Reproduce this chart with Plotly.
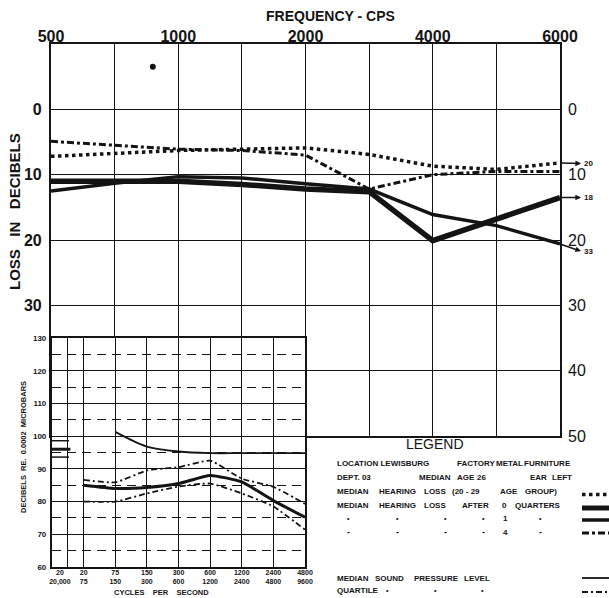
import plotly.graph_objects as go

W, H = 609, 598
INK = '#141414'


def px(x):
    return x / W


def py(y):
    return 1 - y / H


# main audiogram (loss in dB, larger = lower on chart)
freq_pos = [0, 1, 2, 3, 4, 5, 6, 7, 8]
freq_text = ['500', '', '1000', '', '2000', '', '4000', '', '6000']
loss_young = [7.2, 6.8, 6.3, 6.1, 5.9, 6.9, 8.7, 9.2, 8.2]      # 20-29 age group
loss_q0 = [11.0, 11.1, 11.0, 11.5, 12.2, 12.6, 20.1, 16.8, 13.5]  # after 0 quarters
loss_q1 = [12.5, 11.3, 10.3, 10.5, 11.4, 12.2, 16.1, 17.8, 20.6]  # after 1 quarter
loss_q4 = [4.9, 5.5, 6.1, 6.3, 7.0, 12.2, 10.0, 9.5, 9.5]         # after 4 quarters
end_labels = ['20', '18', '33']
stray_x = [1.6]
stray_y = [-6.5]
loss_ticks = [0, 10, 20, 30, 40, 50]

# inset: sound pressure level by octave band
band_pos = [0, 1, 2, 3, 4, 5, 6, 7]
band_text = ['20<br>75', '75<br>150', '150<br>300', '300<br>600', '600<br>1200',
             '1200<br>2400', '2400<br>4800', '4800<br>9600']
overall_pos = -0.75
overall_text = '20<br>20,000'
spl_median = [85.0, 84.0, 84.3, 85.5, 88.0, 86.0, 80.3, 75.2]
spl_upper = [86.6, 85.9, 89.5, 90.5, 92.5, 87.0, 84.5, 79.3]
spl_lower = [80.0, 80.0, 82.5, 84.6, 85.5, 82.5, 78.5, 71.4]
crit_pos = [1, 2, 3, 4, 5, 6, 7]
crit_level = [101.3, 96.8, 95.3, 94.8, 94.8, 94.8, 94.8]
overall_median = 96.0
overall_quart = [98.6, 93.6]
spl_ticks = [60, 70, 80, 90, 100, 110, 120, 130]

dash_dot = '7px,3px,3px,3px'
quart_dash = '6px,3px,2px,3px'
fig = go.Figure()

# main lines
fig.add_trace(go.Scatter(x=freq_pos, y=loss_young, mode='lines',
                         line=dict(color=INK, width=3.5, dash='dot')))
fig.add_trace(go.Scatter(x=freq_pos, y=loss_q4, mode='lines',
                         line=dict(color=INK, width=3, dash=dash_dot)))
fig.add_trace(go.Scatter(x=freq_pos, y=loss_q1, mode='lines',
                         line=dict(color=INK, width=3.5)))
fig.add_trace(go.Scatter(x=freq_pos, y=loss_q0, mode='lines',
                         line=dict(color=INK, width=5.5)))
fig.add_trace(go.Scatter(x=stray_x, y=stray_y, mode='markers', yaxis='y3',
                         marker=dict(color=INK, size=6)))

# inset lines
fig.add_trace(go.Scatter(x=crit_pos, y=crit_level, mode='lines', xaxis='x2', yaxis='y2',
                         line=dict(color=INK, width=1.8, shape='spline', smoothing=0.8)))
fig.add_trace(go.Scatter(x=band_pos, y=spl_upper, mode='lines', xaxis='x2', yaxis='y2',
                         line=dict(color=INK, width=1.8, dash=quart_dash,
                                   shape='spline', smoothing=0.5)))
fig.add_trace(go.Scatter(x=band_pos, y=spl_lower, mode='lines', xaxis='x2', yaxis='y2',
                         line=dict(color=INK, width=1.8, dash=quart_dash,
                                   shape='spline', smoothing=0.5)))
fig.add_trace(go.Scatter(x=band_pos, y=spl_median, mode='lines', xaxis='x2', yaxis='y2',
                         line=dict(color=INK, width=3, shape='spline', smoothing=0.5)))
fig.add_trace(go.Scatter(x=[overall_pos], y=[overall_median], mode='markers',
                         xaxis='x2', yaxis='y2',
                         marker=dict(symbol='line-ew', size=15, line=dict(color=INK, width=3))))
fig.add_trace(go.Scatter(x=[overall_pos] * 2, y=overall_quart, mode='markers',
                         xaxis='x2', yaxis='y2',
                         marker=dict(symbol='line-ew', size=13, line=dict(color=INK, width=1.5))))

bold = dict(family='Liberation Sans', color=INK, weight='bold')

fig.update_layout(
    width=W, height=H, autosize=False, showlegend=False,
    margin=dict(l=0, r=0, t=0, b=0, autoexpand=False),
    paper_bgcolor='white', plot_bgcolor='white',
    font=dict(family='Liberation Sans', color=INK),
    xaxis=dict(domain=[px(51), px(560)], range=[0, 8], side='top', anchor='y',
               automargin=False,
               tickvals=freq_pos, ticktext=freq_text, ticks='',
               tickfont=dict(bold, size=16), ticklabelstandoff=-6,
               showgrid=True, gridcolor=INK, gridwidth=1.2, zeroline=False,
               showline=True, mirror=True, linecolor=INK, linewidth=2.2),
    yaxis=dict(domain=[py(436), py(44)], range=[50, -10], anchor='x', automargin=False,
               tickvals=loss_ticks[:4], ticks='', tickfont=dict(bold, size=16),
               ticklabelstandoff=4,
               showgrid=True, gridcolor=INK, gridwidth=1.2, zeroline=False,
               minor=dict(tickvals=[40], showgrid=True, gridcolor=INK, gridwidth=1.2),
               showline=True, mirror=True, linecolor=INK, linewidth=2.2),
    yaxis3=dict(overlaying='y', side='right', anchor='x', range=[50, -10], automargin=False,
                tickvals=loss_ticks, ticks='', showgrid=False, zeroline=False,
                ticklabelstandoff=7,
                tickfont=dict(family='Liberation Sans', color=INK, size=16)),
    xaxis2=dict(domain=[px(52), px(305)], range=[-1, 7], anchor='y2', automargin=False,
                tickvals=[overall_pos] + band_pos, ticktext=[overall_text] + band_text,
                ticks='', tickfont=dict(bold, size=7), showgrid=False, zeroline=False,
                ticklabelstandoff=-3,
                minor=dict(tickvals=[-0.5] + band_pos, showgrid=True,
                           gridcolor=INK, gridwidth=1.3),
                showline=True, mirror=True, linecolor=INK, linewidth=2.2),
    yaxis2=dict(domain=[py(567), py(338)], range=[60, 130], anchor='x2', automargin=False,
                tickvals=spl_ticks, ticks='', tickfont=dict(bold, size=8),
                ticklabelstandoff=2,
                showgrid=True, gridcolor=INK, gridwidth=1.4, zeroline=False,
                minor=dict(tickvals=[65, 75, 85, 95, 105, 115, 125], showgrid=True,
                           gridcolor=INK, gridwidth=0.8, griddash='9px,6px'),
                showline=True, mirror=True, linecolor=INK, linewidth=2.2),
)

ann = []


def text(x, y, s, size=8, anchor='left', weight='bold', angle=0):
    ann.append(dict(x=px(x), y=py(y), xref='paper', yref='paper', text=s, showarrow=False,
                    xanchor=anchor, yanchor='middle', textangle=angle,
                    font=dict(family='Liberation Sans', size=size, color=INK, weight=weight)))


def words(y, items):
    for xx, s in items:
        text(xx, y, s)


text(330, 16, 'FREQUENCY - CPS', size=14, anchor='center')
text(14, 212, 'LOSS&nbsp;&nbsp; IN&nbsp;&nbsp; DECIBELS', size=15, anchor='center', angle=-90)
text(24, 447, 'DECIBELS&nbsp; RE.&nbsp; 0.0002&nbsp; MICROBARS', size=7.5, anchor='center', angle=-90)
text(161, 592, 'CYCLES&nbsp;&nbsp;&nbsp; PER&nbsp;&nbsp;&nbsp; SECOND', size=7.5, anchor='center')

# arrowed end labels on the right of the audiogram
ends = [loss_young[-1], loss_q0[-1], loss_q1[-1]]
drops = [0.1, 0.0, 1.1]
for lab, v, d in zip(end_labels, ends, drops):
    ann.append(dict(x=8.33, y=v + d, ax=8.0, ay=v, xref='x', yref='y', axref='x', ayref='y',
                    text='', showarrow=True, arrowhead=2, arrowsize=0.7, arrowwidth=1.6,
                    arrowcolor=INK))
    ann.append(dict(x=px(582), y=v + d, xref='paper', yref='y', text=lab, showarrow=False,
                    xanchor='left', yanchor='middle',
                    font=dict(family='Liberation Sans', size=8, color=INK, weight='bold')))

# legend block
text(435, 444, 'LEGEND', size=14, anchor='center', weight='normal')
words(463.5, [(335, 'LOCATION LEWISBURG'), (455, 'FACTORY'), (494, 'METAL'),
              (522, 'FURNITURE')])
words(477, [(335, 'DEPT. 03'), (417, 'MEDIAN'), (455, 'AGE'), (475, '26'),
            (528, 'EAR'), (550, 'LEFT')])
words(491, [(335, 'MEDIAN'), (377, 'HEARING'), (422, 'LOSS'), (450, '(20 - 29'),
            (498, 'AGE'), (523, 'GROUP)')])
words(505, [(335, 'MEDIAN'), (377, 'HEARING'), (422, 'LOSS'), (460, 'AFTER'),
            (500, '0'), (513, 'QUARTERS')])
for xx in (348, 397, 445, 483, 540):
    text(xx, 518, '•', anchor='center', size=7)
    text(xx, 532, '-', anchor='center', size=9)
text(505, 518, '1', anchor='center')
text(505, 532, '4', anchor='center')
words(578, [(335, 'MEDIAN'), (373, 'SOUND'), (412, 'PRESSURE'), (462, 'LEVEL')])
text(335, 590, 'QUARTILE')
for xx in (387, 435, 482):
    text(xx, 590, '•', anchor='center', size=7)

fig.update_layout(annotations=ann)

# legend line samples
samples = [(494.5, 3.5, 'dot'), (508, 5, 'solid'), (520, 3.5, 'solid'),
           (533, 3, dash_dot), (578, 1.8, 'solid'), (592, 1.8, quart_dash)]
for yy, wdt, dsh in samples:
    fig.add_shape(type='line', xref='paper', yref='paper', x0=px(582), x1=px(609),
                  y0=py(yy), y1=py(yy), line=dict(color=INK, width=wdt, dash=dsh))

fig.write_html("out.html", config={'displayModeBar': False},
               post_script="document.body.style.margin='0';document.body.style.overflow='hidden';")
